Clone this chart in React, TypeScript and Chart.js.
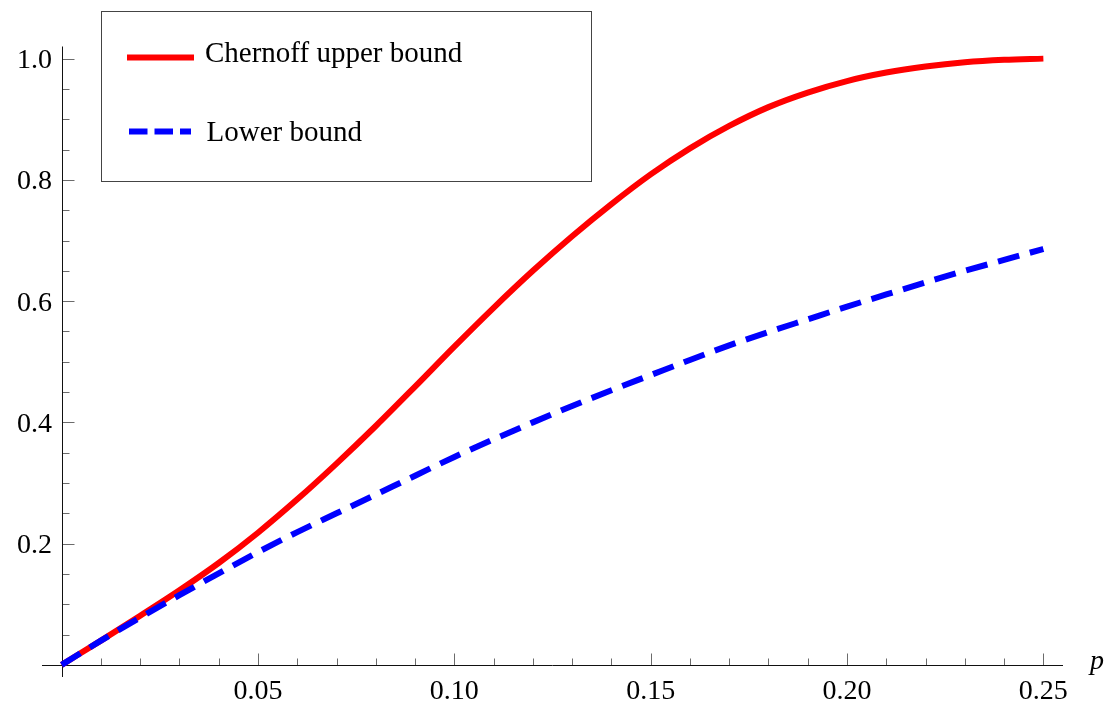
import React, { useEffect, useRef } from "react";
import { Chart, registerables } from "chart.js";

Chart.register(...registerables);

// ---- data ----
const P = [0, 0.01, 0.02, 0.03, 0.04, 0.05, 0.06, 0.07, 0.08, 0.09, 0.1, 0.11, 0.12, 0.13, 0.14, 0.15, 0.16, 0.17, 0.18, 0.19, 0.2, 0.21, 0.22, 0.23, 0.24, 0.25];
const UPPER = [0, 0.04, 0.081, 0.123, 0.168, 0.218, 0.273, 0.332, 0.394, 0.459, 0.525, 0.589, 0.65, 0.707, 0.76, 0.809, 0.852, 0.889, 0.92, 0.944, 0.963, 0.977, 0.987, 0.994, 0.998, 1.0];
const LOWER = [0, 0.04, 0.078, 0.115, 0.151, 0.186, 0.219, 0.25, 0.281, 0.312, 0.343, 0.372, 0.4, 0.427, 0.453, 0.478, 0.503, 0.527, 0.549, 0.57, 0.591, 0.611, 0.631, 0.65, 0.668, 0.686];

const SERIES_NAMES = ["Chernoff upper bound", "Lower bound"];
const X_MAJOR = [0.05, 0.1, 0.15, 0.2, 0.25];
const X_MAJOR_LABELS = ["0.05", "0.10", "0.15", "0.20", "0.25"];
const X_MINOR = [0.01, 0.02, 0.03, 0.04, 0.06, 0.07, 0.08, 0.09, 0.11, 0.12, 0.13, 0.14, 0.16, 0.17, 0.18, 0.19, 0.21, 0.22, 0.23, 0.24];
const Y_MAJOR = [0.2, 0.4, 0.6, 0.8, 1.0];
const Y_MAJOR_LABELS = ["0.2", "0.4", "0.6", "0.8", "1.0"];
const Y_MINOR = [0.05, 0.1, 0.15, 0.25, 0.3, 0.35, 0.45, 0.5, 0.55, 0.65, 0.7, 0.75, 0.85, 0.9, 0.95];
const X_AXIS_LABEL = "p";

const SERIF = '"Liberation Serif", "Times New Roman", serif';

const axesPlugin = {
  id: "mmaAxes",
  beforeDatasetsDraw(chart: any) {
    const { ctx } = chart;
    const xs = chart.scales.x;
    const ys = chart.scales.y;
    const x0 = Math.round(xs.getPixelForValue(0)) + 0.5;
    const y0 = Math.round(ys.getPixelForValue(0)) + 0.5;
    ctx.save();
    // ticks
    ctx.strokeStyle = "#6b6b6b";
    ctx.lineWidth = 1;
    ctx.beginPath();
    X_MINOR.forEach((v) => {
      const px = Math.round(xs.getPixelForValue(v)) + 0.5;
      ctx.moveTo(px, y0);
      ctx.lineTo(px, y0 - 7);
    });
    X_MAJOR.forEach((v) => {
      const px = Math.round(xs.getPixelForValue(v)) + 0.5;
      ctx.moveTo(px, y0);
      ctx.lineTo(px, y0 - 12);
    });
    Y_MINOR.forEach((v) => {
      const py = Math.round(ys.getPixelForValue(v)) + 0.5;
      ctx.moveTo(x0, py);
      ctx.lineTo(x0 + 7, py);
    });
    Y_MAJOR.forEach((v) => {
      const py = Math.round(ys.getPixelForValue(v)) + 0.5;
      ctx.moveTo(x0, py);
      ctx.lineTo(x0 + 12, py);
    });
    ctx.stroke();
    // axes
    ctx.strokeStyle = "#111";
    ctx.beginPath();
    ctx.moveTo(xs.left, y0);
    ctx.lineTo(xs.right, y0);
    ctx.moveTo(x0, ys.top);
    ctx.lineTo(x0, ys.bottom);
    ctx.stroke();
    // labels
    ctx.fillStyle = "#000";
    ctx.font = `28px ${SERIF}`;
    ctx.textAlign = "center";
    ctx.textBaseline = "alphabetic";
    X_MAJOR.forEach((v, i) => {
      ctx.fillText(X_MAJOR_LABELS[i], xs.getPixelForValue(v), y0 + 33);
    });
    ctx.textAlign = "right";
    Y_MAJOR.forEach((v, i) => {
      ctx.fillText(Y_MAJOR_LABELS[i], x0 - 10.5, ys.getPixelForValue(v) + 9.5);
    });
    ctx.textAlign = "left";
    ctx.font = `italic 28px ${SERIF}`;
    ctx.fillText(X_AXIS_LABEL, xs.right + 27, y0 + 3);
    ctx.restore();
  },
  afterDraw(chart: any) {
    const { ctx } = chart;
    ctx.save();
    // legend box
    ctx.fillStyle = "#fff";
    ctx.fillRect(101.5, 11.5, 490, 170);
    ctx.strokeStyle = "#444";
    ctx.lineWidth = 1;
    ctx.strokeRect(101.5, 11.5, 490, 170);
    // red sample
    ctx.lineCap = "butt";
    ctx.lineWidth = 6;
    ctx.strokeStyle = "#ff0000";
    ctx.beginPath();
    ctx.moveTo(127, 57.5);
    ctx.lineTo(194, 57.5);
    ctx.stroke();
    // blue sample
    ctx.strokeStyle = "#0000ff";
    ctx.setLineDash([18.5, 7]);
    ctx.beginPath();
    ctx.moveTo(129, 131.5);
    ctx.lineTo(191, 131.5);
    ctx.stroke();
    ctx.setLineDash([]);
    ctx.fillStyle = "#000";
    ctx.font = `29px ${SERIF}`;
    ctx.textAlign = "left";
    ctx.textBaseline = "alphabetic";
    ctx.fillText(SERIES_NAMES[0], 205, 61.5);
    ctx.fillText(SERIES_NAMES[1], 206.5, 140.5);
    ctx.restore();
  },
};

export default function App() {
  const ref = useRef<HTMLCanvasElement | null>(null);
  useEffect(() => {
    if (!ref.current) return;
    const chart = new Chart(ref.current, {
      type: "line",
      data: {
        datasets: [
          {
            label: SERIES_NAMES[0],
            data: P.map((p, i) => ({ x: p, y: UPPER[i] })),
            borderColor: "#ff0000",
            borderWidth: 6,
            pointRadius: 0,
            cubicInterpolationMode: "monotone",
            fill: false,
            order: 1,
          },
          {
            label: SERIES_NAMES[1],
            data: P.map((p, i) => ({ x: p, y: LOWER[i] })),
            borderColor: "#0000ff",
            borderWidth: 6,
            borderDash: [22, 11],
            borderCapStyle: "butt",
            pointRadius: 0,
            cubicInterpolationMode: "monotone",
            fill: false,
            order: 0,
          },
        ],
      },
      options: {
        responsive: false,
        animation: false,
        devicePixelRatio: 1,
        layout: { padding: { left: 42, right: 42, top: 46.5, bottom: 26 } },
        plugins: { legend: { display: false }, tooltip: { enabled: false } },
        scales: {
          x: { type: "linear", min: -0.005, max: 0.255, display: false },
          y: { type: "linear", min: -0.02, max: 1.02, display: false },
        },
      },
      plugins: [axesPlugin],
    } as any);
    return () => chart.destroy();
  }, []);
  return (
    <div style={{ position: "fixed", left: 0, top: 0, width: 1105, height: 703, background: "#fff" }}>
      <canvas ref={ref} width={1105} height={703} style={{ display: "block" }} />
    </div>
  );
}
